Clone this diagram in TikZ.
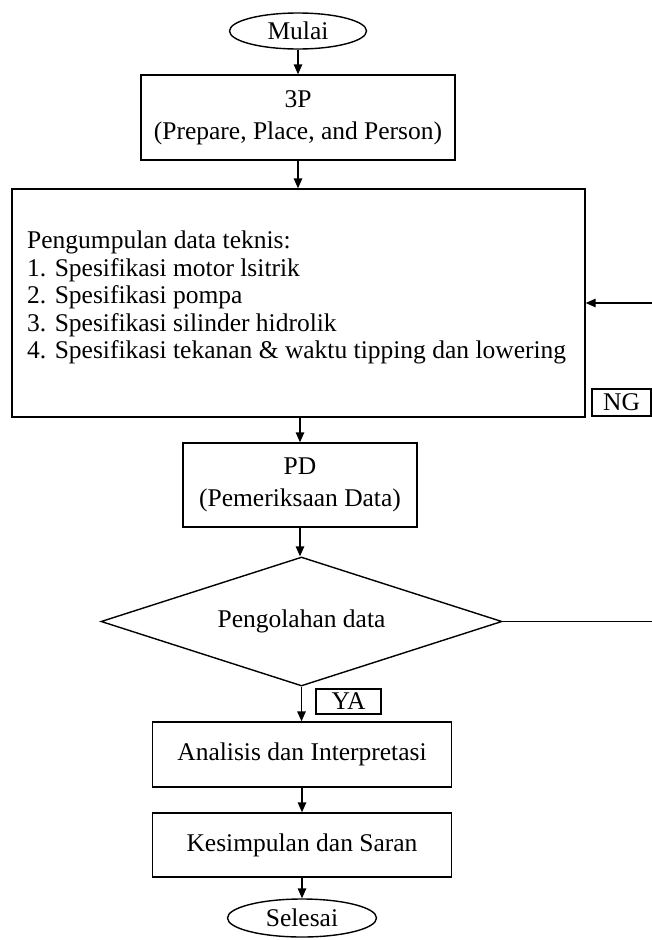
\documentclass[tikz,border=0pt]{standalone}
\usepackage{fontspec}
\setmainfont{Liberation Serif}
\usetikzlibrary{shapes.geometric,arrows.meta}
\begin{document}
\begin{tikzpicture}[x=1pt,y=-1pt,
  every node/.style={font=\fontsize{25.5}{32}\selectfont, inner sep=0pt},
  box/.style={draw, line width=1.4pt, align=center},
  term/.style={draw, ellipse, line width=1.4pt},
  lbl/.style={draw, line width=1.4pt},
  flow/.style={line width=1.4pt, -{Triangle[length=10pt,width=8.5pt]}},
  link/.style={line width=1.4pt}]
\useasboundingbox (0,0) rectangle (652,940);
\node[term, minimum width=137pt, minimum height=36pt] (start) at (298,31) {Mulai};
\node[box, minimum width=314pt, minimum height=85pt] (p3) at (298,117.5) {3P\\(Prepare, Place, and Person)};
\node[box, minimum width=573pt, minimum height=228pt] (data) at (298.5,303) {};
\node[anchor=west, align=left, font=\fontsize{25.5}{27.5}\selectfont] (datatext) at (27,297.5)
  {Pengumpulan data teknis:\\
   1. Spesifikasi motor lsitrik\\
   2. Spesifikasi pompa\\
   3. Spesifikasi silinder hidrolik\\
   4. Spesifikasi tekanan \& waktu tipping dan lowering};
\node[lbl, minimum width=59pt, minimum height=27pt] (ng) at (621.5,402.5) {NG};
\node[box, minimum width=234pt, minimum height=84pt] (pd) at (300,485) {PD\\(Pemeriksaan Data)};
\node[draw, diamond, aspect=3.1, line width=1.4pt, minimum width=401pt, minimum height=129pt] (dec) at (301.5,621.5) {Pengolahan data};
\node[lbl, minimum width=65pt, minimum height=25pt] (ya) at (348.5,701.5) {YA};
\node[box, minimum width=299pt, minimum height=65pt] (anal) at (302,754.5) {Analisis dan Interpretasi};
\node[box, minimum width=299pt, minimum height=64pt] (kes) at (302,845) {Kesimpulan dan Saran};
\node[term, minimum width=149pt, minimum height=38pt] (end) at (302,918) {Selesai};
\coordinate (loopA) at (658,621.5);
\coordinate (loopB) at (658,303);
\draw[flow] (start.south) -- (start.south |- p3.north);
\draw[flow] (p3.south) -- (p3.south |- data.north);
\draw[flow] (data.south -| pd.north) -- (pd.north);
\draw[flow] (pd.south) -- (pd.south |- dec.north);
\draw[flow] (dec.south) -- (dec.south |- anal.north);
\draw[flow] (anal.south) -- (kes.north);
\draw[flow] (kes.south) -- (end.north);
\draw[flow] (dec.east) -- (loopA) -- (loopB) -- (data.east);
\end{tikzpicture}
\end{document}
